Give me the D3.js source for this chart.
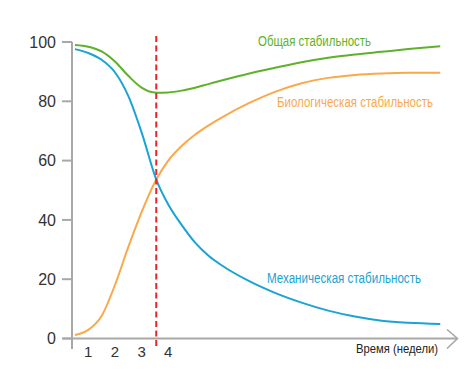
<!DOCTYPE html>
<html><head><meta charset="utf-8">
<script src="https://cdn.jsdelivr.net/npm/d3@7"></script>
<style>body{margin:0;background:#fff}svg{display:block}text{font-family:"Liberation Sans",Arial,sans-serif}</style>
</head><body><svg id="c" width="472" height="370"></svg>
<script>
const weeks = [0.5,1,1.5,2,2.5,3,3.55,4,4.5,5,5.5,6,7,8,9,10,11,12,13,14.2];
const overall = [99.0,98.4,96.8,93.4,88.6,84.6,82.9,83.0,83.6,84.6,85.8,87.0,89.3,91.3,93.2,94.7,95.8,96.7,97.6,98.6];
const mechanical = [97.6,96.3,94.0,89.8,81.8,69.5,53.6,45.2,38.3,32.4,28.0,24.7,19.5,15.4,12.1,9.4,7.4,6.0,5.3,4.9];
const biological = [1.2,2.9,7.6,18.0,30.8,42.6,53.6,60.0,64.9,68.7,71.8,74.5,79.3,83.2,86.1,87.9,88.9,89.4,89.6,89.6];
const yTicks = [0,20,40,60,80,100];
const xTicks = [1,2,3,4];
const markerWeek = 3.55;
const seriesLabels = ["Общая стабильность","Биологическая стабильность","Механическая стабильность"];
const xTitle = "Время (недели)";

const svg = d3.select("#c");
const x = d3.scaleLinear().domain([0,15]).range([61.6,461.6]);
const y = d3.scaleLinear().domain([0,100]).range([338.5,42]);
const axisCol = "#a8a8a8";

// y axis
svg.append("line").attr("x1",72).attr("x2",72).attr("y1",y(100)).attr("y2",349)
  .attr("stroke",axisCol).attr("stroke-width",2);
yTicks.forEach(t=>{
  svg.append("line").attr("x1",62).attr("x2",72).attr("y1",y(t)).attr("y2",y(t))
    .attr("stroke",axisCol).attr("stroke-width",2);
  svg.append("text").attr("x",56).attr("y",y(t)).attr("dy","0.36em")
    .attr("text-anchor","end").attr("font-size",16).attr("fill","#333").text(t);
});
// x axis
svg.append("line").attr("x1",62.7).attr("x2",457).attr("y1",y(0)).attr("y2",y(0))
  .attr("stroke",axisCol).attr("stroke-width",2);
svg.append("path").attr("d",`M447,${y(0)-9}L457.5,${y(0)}L447,${y(0)+10}`)
  .attr("fill","none").attr("stroke",axisCol).attr("stroke-width",1.6);
xTicks.forEach(t=>{
  svg.append("text").attr("x",x(t)).attr("y",357).attr("text-anchor","middle")
    .attr("font-size",15).attr("fill","#333").text(t);
});
svg.append("text").attr("x",438).attr("y",353).attr("text-anchor","end")
  .attr("font-size",13).attr("fill","#222").attr("textLength",82)
  .attr("lengthAdjust","spacingAndGlyphs").text(xTitle);

// lines
const line = d3.line().x((d,i)=>x(weeks[i])).y(d=>y(d)).curve(d3.curveMonotoneX);
const series = [
  {v:biological, c:"#f9a94b"},
  {v:mechanical, c:"#1ba3d3"},
  {v:overall, c:"#5fb12a"}
];
series.forEach(s=>{
  svg.append("path").attr("d",line(s.v)).attr("fill","none")
    .attr("stroke",s.c).attr("stroke-width",2);
});

// marker
svg.append("line").attr("x1",x(markerWeek)).attr("x2",x(markerWeek)).attr("y1",36).attr("y2",346)
  .attr("stroke","#e4262b").attr("stroke-width",2).attr("stroke-dasharray","6,3.5");

// labels
const labs = [
  {t:seriesLabels[0], x:258, y:46, w:113, c:"#5fb12a"},
  {t:seriesLabels[1], x:277, y:107, w:156, c:"#f9a94b"},
  {t:seriesLabels[2], x:267, y:283, w:154, c:"#1ba3d3"}
];
labs.forEach(l=>{
  svg.append("text").attr("x",l.x).attr("y",l.y).attr("font-size",14).attr("fill",l.c)
    .attr("textLength",l.w).attr("lengthAdjust","spacingAndGlyphs").text(l.t);
});
</script></body></html>
